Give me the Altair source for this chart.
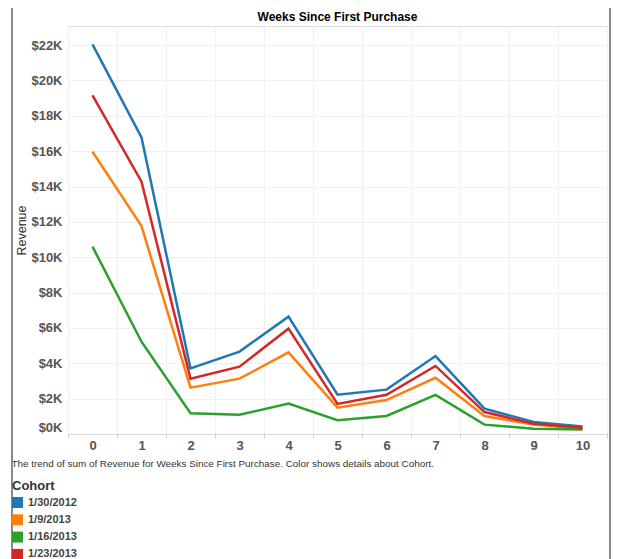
import altair as alt
import pandas as pd

weeks = list(range(11))
cohorts = ["1/30/2012", "1/9/2013", "1/16/2013", "1/23/2013"]
colors = ["#1f77b4", "#ff7f0e", "#2ca02c", "#d62728"]

rev_1_30_2012 = [22040, 16780, 3710, 4660, 6640, 2220, 2510, 4410, 1430, 680, 430]
rev_1_9_2013 = [15970, 11760, 2620, 3130, 4620, 1490, 1920, 3180, 1020, 530, 300]
rev_1_16_2013 = [10600, 5220, 1170, 1090, 1720, 780, 1020, 2210, 530, 300, 250]
rev_1_23_2013 = [19160, 14270, 3130, 3810, 5960, 1700, 2220, 3850, 1240, 580, 360]

series = [rev_1_30_2012, rev_1_9_2013, rev_1_16_2013, rev_1_23_2013]
y_ticks = list(range(0, 22001, 2000))

chart_title = "Weeks Since First Purchase"
caption = "The trend of sum of Revenue for Weeks Since First Purchase.  Color shows details about Cohort."

rows = []
for c, vals in zip(cohorts, series):
    for w, v in zip(weeks, vals):
        rows.append({"Week": w, "Cohort": c, "Revenue": v})
df = pd.DataFrame(rows)

FONT = "Liberation Sans"

x_enc = alt.X(
    "Week:O",
    bandPosition=0.5,
    scale=alt.Scale(type="band", paddingInner=0, paddingOuter=0),
    axis=alt.Axis(
        title=caption,
        titleX=-57,
        titleY=29,
        titleAlign="left",
        titleBaseline="middle",
        titleFont=FONT,
        titleFontSize=9.9,
        titleFontWeight="normal",
        titleColor="#333333",
        labelAngle=0,
        tickBand="extent",
        labelFont=FONT,
        labelFontSize=13,
        labelFontWeight="bold",
        labelColor="#555555",
        labelPadding=1,
        tickSize=4,
        tickColor="#d0d0d0",
        domainColor="#d8d8d8",
        grid=True,
        gridColor="#f0f0f0",
    ),
)

y_enc = alt.Y(
    "Revenue:Q",
    scale=alt.Scale(domain=[0, 23080], nice=False, zero=False),
    axis=alt.Axis(
        values=y_ticks,
        labelExpr="'$' + format(datum.value / 1000, 'd') + 'K'",
        labelFlush=True,
        title="Revenue",
        titleX=-40,
        titleY=204,
        titleFont=FONT,
        titleFontSize=12.5,
        titleFontWeight="normal",
        titleColor="#333333",
        labelFont=FONT,
        labelFontSize=13,
        labelFontWeight="bold",
        labelColor="#555555",
        labelPadding=6,
        ticks=False,
        domain=False,
        grid=True,
        gridColor="#f0f0f0",
    ),
)

color_enc = alt.Color(
    "Cohort:N",
    scale=alt.Scale(domain=cohorts, range=colors),
    legend=alt.Legend(
        orient="none",
        legendX=-56,
        legendY=454,
        title="Cohort",
        titleFont=FONT,
        titleFontSize=13,
        titleFontWeight="bold",
        titleColor="#333333",
        titlePadding=4,
        labelFont=FONT,
        labelFontSize=11,
        labelFontWeight="bold",
        labelColor="#444444",
        labelOffset=5,
        symbolType="square",
        symbolSize=121,
        symbolStrokeWidth=0,
        symbolOpacity=1,
        rowPadding=5.3,
        padding=0,
    ),
)

# empty square layer: only provides filled square legend symbols
swatches = alt.Chart(df).mark_square(filled=True, size=121, opacity=1).encode(
    x=x_enc, y=y_enc, color=color_enc
).transform_filter("false")

lines = alt.Chart(df).mark_line(strokeWidth=2.5).encode(
    x=x_enc, y=y_enc, color=color_enc
)

frame = alt.Chart(alt.Data(values=[{}])).mark_rect(
    filled=False, stroke="#8a8a8a", strokeWidth=2
).encode(
    x=alt.value(-56), x2=alt.value(542), y=alt.value(-21), y2=alt.value(560)
)

title_text = alt.Chart(alt.Data(values=[{}])).mark_text(
    font=FONT, fontSize=12, fontWeight="bold", color="#000000",
    align="center", baseline="alphabetic"
).encode(
    x=alt.value(269.5), y=alt.value(-5), text=alt.value(chart_title)
)

chart = alt.layer(swatches, lines, frame, title_text).properties(
    width=539,
    height=408,
    autosize=alt.AutoSizeParams(type="none"),
    padding={"left": 60, "top": 18, "right": 4, "bottom": 125},
).configure_view(stroke="#e2e2e2").configure(background="white")

chart.save("out.html", embed_options={"renderer": "svg", "actions": False})
